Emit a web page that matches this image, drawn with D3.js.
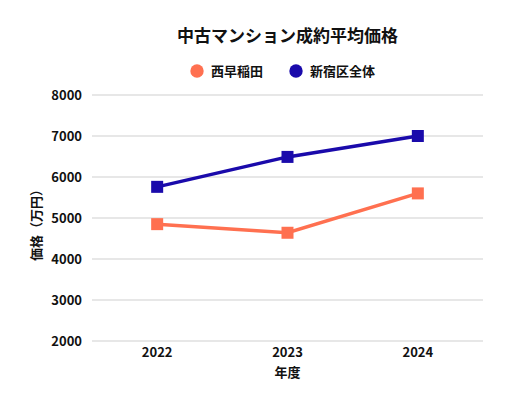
<!doctype html>
<html>
<head>
<meta charset="utf-8"/>
<title>中古マンション成約平均価格</title>
<script src="https://d3js.org/d3.v7.min.js"></script>
<style>
body { margin:0; background:#fff; }
text { font-family: "Noto Sans CJK JP", "Noto Sans", sans-serif; fill:#111; }
</style>
</head>
<body>
<script>
// データ
var years = ["2022", "2023", "2024"];
var nishiwaseda = [4850, 4640, 5600];
var shinjukuAll = [5760, 6490, 7000];
var seriesNames = ["西早稲田", "新宿区全体"];
var seriesColors = ["#FF7050", "#1A0AAB"];
var yTicks = [2000, 3000, 4000, 5000, 6000, 7000, 8000];

var W = 510, H = 410;
var m = {left:92, right:27, top:95, bottom:69};

var svg = d3.select("body").append("svg")
  .attr("width", W).attr("height", H);

var x = d3.scaleBand().domain(years).range([m.left, W - m.right]);
var y = d3.scaleLinear().domain([2000, 8000]).range([H - m.bottom, m.top]);

// グリッド
svg.append("g")
  .selectAll("line").data(yTicks).enter().append("line")
  .attr("x1", m.left).attr("x2", W - m.right)
  .attr("y1", function(d){ return y(d); }).attr("y2", function(d){ return y(d); })
  .attr("stroke", "#cfcfcf").attr("stroke-width", 1);

// Y軸ラベル
var yAxis = svg.append("g")
  .attr("transform", "translate(" + m.left + ",0)")
  .call(d3.axisLeft(y).tickValues(yTicks).tickSize(0).tickPadding(10).tickFormat(d3.format("d")));
yAxis.select(".domain").remove();
yAxis.selectAll("text").attr("font-size", 13).attr("font-weight", "bold")
  .style("font-family", "'Noto Sans CJK JP', sans-serif").attr("fill", "#111");

// X軸ラベル
var xAxis = svg.append("g")
  .attr("transform", "translate(0," + (H - m.bottom) + ")")
  .call(d3.axisBottom(x).tickSize(0).tickPadding(7));
xAxis.select(".domain").remove();
xAxis.selectAll("text").attr("font-size", 13).attr("font-weight", "bold")
  .style("font-family", "'Noto Sans CJK JP', sans-serif").attr("fill", "#111");

// 軸タイトル
svg.append("text")
  .attr("x", (m.left + W - m.right) / 2).attr("y", 377)
  .attr("text-anchor", "middle").attr("font-size", 13).attr("font-weight", "bold")
  .text("年度");

svg.append("text")
  .attr("transform", "translate(41," + ((m.top + H - m.bottom) / 2 + 4) + ") rotate(-90)")
  .attr("text-anchor", "middle").attr("font-size", 13).attr("font-weight", "bold")
  .text("価格（万円）");

// タイトル
svg.append("text")
  .attr("x", (m.left + W - m.right) / 2).attr("y", 42)
  .attr("text-anchor", "middle").attr("font-size", 17).attr("font-weight", "bold")
  .text("中古マンション成約平均価格");

// 凡例
var legendX = [197, 296];
seriesNames.forEach(function(name, i){
  svg.append("circle").attr("cx", legendX[i]).attr("cy", 71).attr("r", 6.7)
    .attr("fill", seriesColors[i]);
  svg.append("text").attr("x", legendX[i] + 14).attr("y", 76)
    .attr("font-size", 13).attr("font-weight", "bold").text(name);
});

// 折れ線
var line = d3.line()
  .x(function(d, i){ return x(years[i]) + x.bandwidth() / 2; })
  .y(function(d){ return y(d); });

[nishiwaseda, shinjukuAll].forEach(function(vals, i){
  svg.append("path").datum(vals)
    .attr("d", line).attr("fill", "none")
    .attr("stroke", seriesColors[i]).attr("stroke-width", 3.5);
  svg.append("g").selectAll("rect").data(vals).enter().append("rect")
    .attr("x", function(d, j){ return x(years[j]) + x.bandwidth() / 2 - 6; })
    .attr("y", function(d){ return y(d) - 6; })
    .attr("width", 12).attr("height", 12)
    .attr("fill", seriesColors[i]);
});
</script>
</body>
</html>
